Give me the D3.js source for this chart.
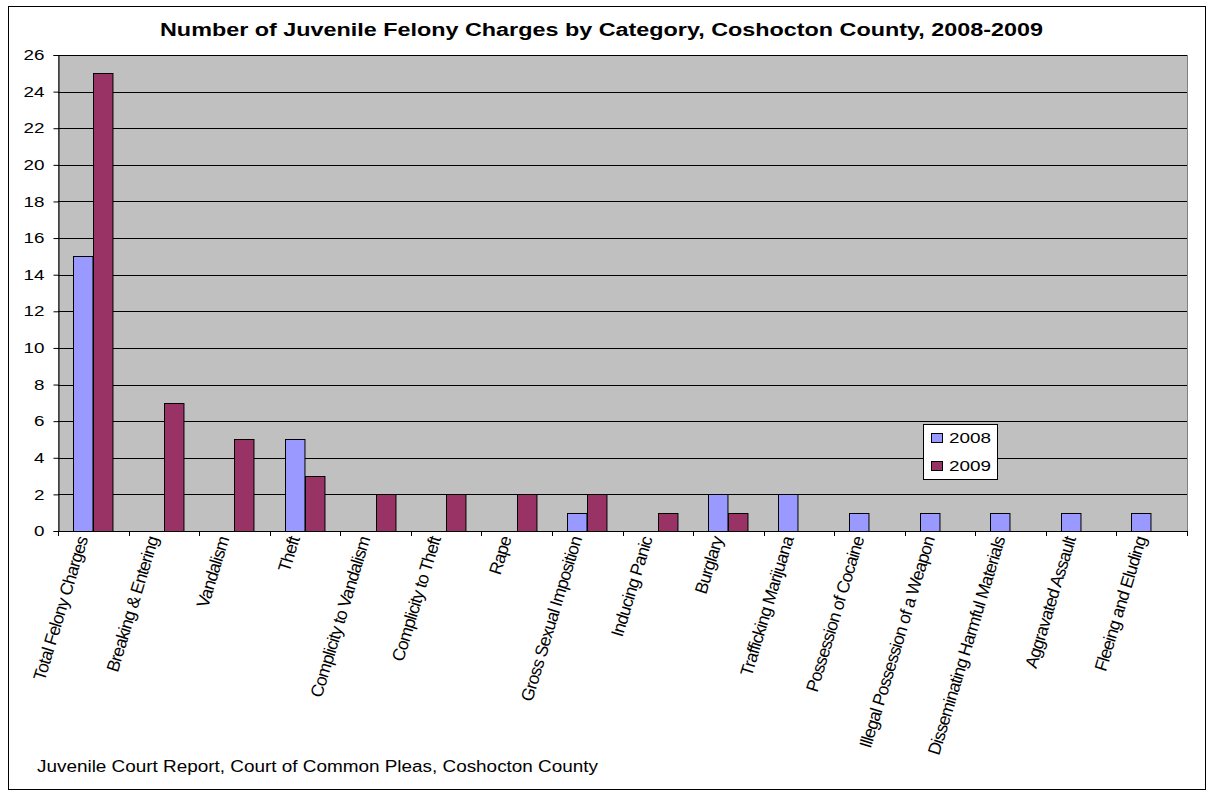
<!DOCTYPE html>
<html>
<head>
<meta charset="utf-8">
<script src="https://cdn.jsdelivr.net/npm/d3@7"></script>
<style>
  body { margin: 0; background: #fff; }
  text { font-family: Arial, "Liberation Sans", sans-serif; fill: #000; }
</style>
</head>
<body>
<div id="chart"></div>
<script>
// Chart data
const categories = [
  "Total Felony Charges", "Breaking & Entering", "Vandalism", "Theft",
  "Complicity to Vandalism", "Complicity to Theft", "Rape", "Gross Sexual Imposition",
  "Inducing Panic", "Burglary", "Trafficking Marijuana", "Possession of Cocaine",
  "Illegal Possession of a Weapon", "Disseminating Harmful Materials", "Aggravated Assault", "Fleeing and Eluding"
];
const years = ["2008", "2009"];
const values2008 = [15, 0, 0, 5, 0, 0, 0, 1, 0, 2, 2, 1, 1, 1, 1, 1];
const values2009 = [25, 7, 5, 3, 2, 2, 2, 2, 1, 1, 0, 0, 0, 0, 0, 0];
const yTicks = d3.range(0, 27, 2);
const colors = ["#9999FF", "#993366"];

const W = 1212, H = 796;
const plot = { left: 58, right: 1187, top: 55, bottom: 531 };

const svg = d3.select("#chart").append("svg")
  .attr("width", W).attr("height", H);

// outer chart border
svg.append("rect")
  .attr("x", 8.5).attr("y", 6.5).attr("width", 1197).attr("height", 783)
  .attr("fill", "#fff").attr("stroke", "#000");

// title (text in the source is drawn wide, so stretch it)
svg.append("text")
  .attr("x", 160).attr("y", 36)
  .attr("textLength", 883).attr("lengthAdjust", "spacingAndGlyphs")
  .style("font-size", "18px").style("font-weight", "bold")
  .text("Number of Juvenile Felony Charges by Category, Coshocton County, 2008-2009");

// scales
const x = d3.scaleBand().domain(categories)
  .range([plot.left, plot.right]).paddingInner(0.42).paddingOuter(0.21);
const xInner = d3.scaleBand().domain(years).range([0, x.bandwidth()]);
const y = d3.scaleLinear().domain([0, 26]).range([plot.bottom, plot.top]);

// plot background
svg.append("rect")
  .attr("x", plot.left + 0.5).attr("y", plot.top + 0.5)
  .attr("width", plot.right - plot.left).attr("height", plot.bottom - plot.top)
  .attr("fill", "#C0C0C0").attr("stroke", "#808080");

// gridlines
svg.append("g").selectAll("line")
  .data(yTicks.filter(d => d > 0))
  .join("line")
  .attr("x1", plot.left).attr("x2", plot.right)
  .attr("y1", d => Math.round(y(d)) + 0.5).attr("y2", d => Math.round(y(d)) + 0.5)
  .attr("stroke", "#000");

// y axis
const yAxis = svg.append("g")
  .attr("transform", `translate(${plot.left + 0.5},0)`)
  .call(d3.axisLeft(y).tickValues(yTicks).tickSize(5));
yAxis.select(".domain").attr("stroke", "#000");
yAxis.selectAll("text")
  .attr("x", 0)
  .attr("transform", "translate(-14,0) scale(1.3,1)")
  .style("font-size", "14.5px");

// bars
const series = years.map((yr, i) => ({ year: yr, values: i === 0 ? values2008 : values2009 }));
series.forEach((s, si) => {
  svg.append("g").selectAll("rect")
    .data(categories.map((c, i) => ({ c, v: s.values[i] })).filter(d => d.v > 0))
    .join("rect")
    .attr("x", d => Math.round(x(d.c) + xInner(s.year)) + 0.5)
    .attr("y", d => Math.round(y(d.v)) + 0.5)
    .attr("width", xInner.bandwidth() - 1)
    .attr("height", d => Math.round(y(0)) - Math.round(y(d.v)))
    .attr("fill", colors[si])
    .attr("stroke", "#000");
});

// x axis line and ticks at category boundaries
const gx = svg.append("g");
gx.append("line")
  .attr("x1", plot.left).attr("x2", plot.right + 1)
  .attr("y1", plot.bottom + 0.5).attr("y2", plot.bottom + 0.5)
  .attr("stroke", "#000");
const edges = categories.map(c => x(c) - (x.step() - x.bandwidth()) / 2).concat([plot.right]);
gx.selectAll(".tk").data(edges).join("line")
  .attr("x1", d => Math.round(d) + 0.5).attr("x2", d => Math.round(d) + 0.5)
  .attr("y1", plot.bottom).attr("y2", plot.bottom + 5)
  .attr("stroke", "#000");

// rotated category labels
gx.selectAll(".lbl").data(categories).join("text")
  .attr("transform", d => `translate(${x(d) + x.bandwidth() / 2 - 11},${plot.bottom + 6}) rotate(-73)`)
  .attr("text-anchor", "end")
  .attr("dy", "0.35em")
  .style("font-size", "17.5px")
  .style("letter-spacing", "-0.8px")
  .text(d => d);

// legend
const lg = svg.append("g").attr("transform", "translate(923,424)");
lg.append("rect").attr("x", 0.5).attr("y", 0.5).attr("width", 74).attr("height", 55)
  .attr("fill", "#fff").attr("stroke", "#000");
years.forEach((yr, i) => {
  lg.append("rect")
    .attr("x", 8.5).attr("y", 9.5 + i * 28).attr("width", 11).attr("height", 9)
    .attr("fill", colors[i]).attr("stroke", "#000");
  lg.append("text")
    .attr("x", 26).attr("y", 19 + i * 28)
    .attr("textLength", 42).attr("lengthAdjust", "spacingAndGlyphs")
    .style("font-size", "14.5px")
    .text(yr);
});

// source note
svg.append("text")
  .attr("x", 37).attr("y", 772)
  .attr("textLength", 561).attr("lengthAdjust", "spacingAndGlyphs")
  .style("font-size", "16px")
  .text("Juvenile Court Report, Court of Common Pleas, Coshocton County");
</script>
</body>
</html>
